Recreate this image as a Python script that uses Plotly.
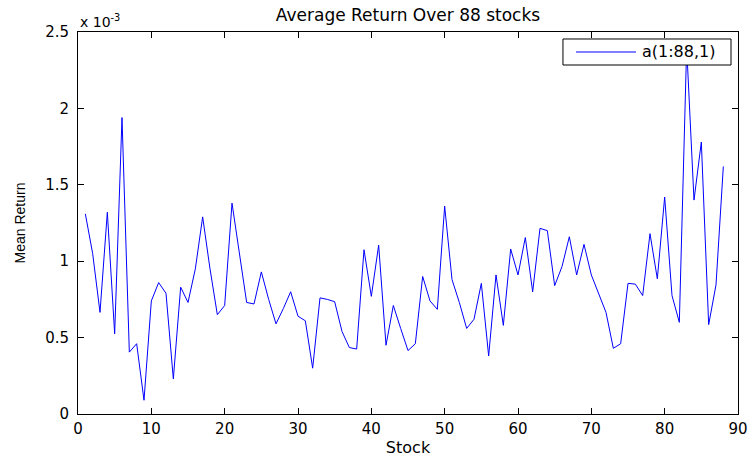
import plotly.graph_objects as go

# Mean return of each stock, in units of 1e-3
mean_return_e3 = [
    1.31, 1.05, 0.665, 1.32, 0.525, 1.94, 0.405, 0.46, 0.09, 0.74,
    0.86, 0.79, 0.23, 0.83, 0.73, 0.95, 1.29, 0.95, 0.65, 0.71,
    1.38, 1.05, 0.73, 0.72, 0.93, 0.75, 0.59, 0.69, 0.80, 0.64,
    0.61, 0.30, 0.76, 0.75, 0.735, 0.54, 0.435, 0.425, 1.075, 0.77,
    1.105, 0.45, 0.71, 0.56, 0.415, 0.46, 0.90, 0.74, 0.685, 1.36,
    0.88, 0.73, 0.56, 0.62, 0.855, 0.38, 0.91, 0.58, 1.08, 0.91,
    1.155, 0.80, 1.215, 1.20, 0.84, 0.965, 1.16, 0.91, 1.11, 0.91,
    0.79, 0.665, 0.43, 0.46, 0.855, 0.85, 0.775, 1.18, 0.885, 1.42,
    0.775, 0.60, 2.40, 1.40, 1.78, 0.585, 0.845, 1.62,
]
scale = 1e-3
stock = list(range(1, len(mean_return_e3) + 1))
mean_return = [v * scale for v in mean_return_e3]
series_name = "a(1:88,1)"

x_ticks = [0, 10, 20, 30, 40, 50, 60, 70, 80, 90]
y_ticks_e3 = [0, 0.5, 1, 1.5, 2, 2.5]
y_tick_text = ["0", "0.5", "1", "1.5", "2", "2.5"]

FONT_H = "DejaVu Sans"
FONT_V = "Liberation Sans, Arial, sans-serif"
LINE_BLUE = "#0000ff"

fig = go.Figure()
fig.add_trace(go.Scatter(
    x=stock, y=mean_return, mode="lines", name=series_name,
    line=dict(color=LINE_BLUE, width=1), showlegend=False,
))

axis_common = dict(
    showline=True, linecolor="black", linewidth=1, mirror="ticks",
    ticks="inside", ticklen=6, tickcolor="black", tickwidth=1,
    showgrid=False, zeroline=False, automargin=False,
    tickfont=dict(family=FONT_H, size=15, color="black"),
)

# Boxed legend in the upper-right corner (paper coordinates), drawn above the line
box_x0, box_x1, box_y0, box_y1 = 0.7348, 0.9894, 0.9136, 0.9817
key_x0, key_x1 = 0.7545, 0.8455
key_y = (box_y0 + box_y1) / 2
legend_shapes = [
    dict(type="rect", xref="paper", yref="paper", x0=box_x0, x1=box_x1, y0=box_y0, y1=box_y1,
         fillcolor="white", opacity=1, line=dict(color="black", width=1), layer="above"),
    dict(type="line", xref="paper", yref="paper", x0=key_x0, x1=key_x1, y0=key_y, y1=key_y,
         line=dict(color=LINE_BLUE, width=1), layer="above"),
]

fig.update_layout(
    width=748, height=457,
    margin=dict(l=78, r=10, t=32, b=43, autoexpand=False),
    paper_bgcolor="white", plot_bgcolor="white",
    title=dict(text="Average Return Over 88 stocks", x=(78 + 330) / 748, xanchor="center",
               y=1 - 15 / 457, yanchor="middle",
               font=dict(family=FONT_H, size=17, color="black")),
    xaxis=dict(range=[0, 90], tickvals=x_ticks, ticklabelstandoff=1,
               title=dict(text="Stock", standoff=9,
                          font=dict(family=FONT_H, size=16, color="black")),
               **axis_common),
    yaxis=dict(range=[0, 2.5 * scale], tickvals=[t * scale for t in y_ticks_e3],
               ticktext=y_tick_text, ticklabelstandoff=5,
               title=dict(text="Mean Return", standoff=16,
                          font=dict(family=FONT_V, size=14, color="black")),
               **axis_common),
    showlegend=False,
    shapes=legend_shapes,
    annotations=[
        dict(text="x 10<sup>-3</sup>", xref="paper", yref="paper", x=0, y=1,
             xanchor="left", yanchor="bottom", showarrow=False,
             font=dict(family=FONT_H, size=14, color="black")),
        dict(text=series_name, xref="paper", yref="paper", x=0.8515, y=key_y,
             xanchor="left", yanchor="middle", showarrow=False,
             font=dict(family=FONT_H, size=16, color="black")),
    ],
)

fig.write_html("out.html")
